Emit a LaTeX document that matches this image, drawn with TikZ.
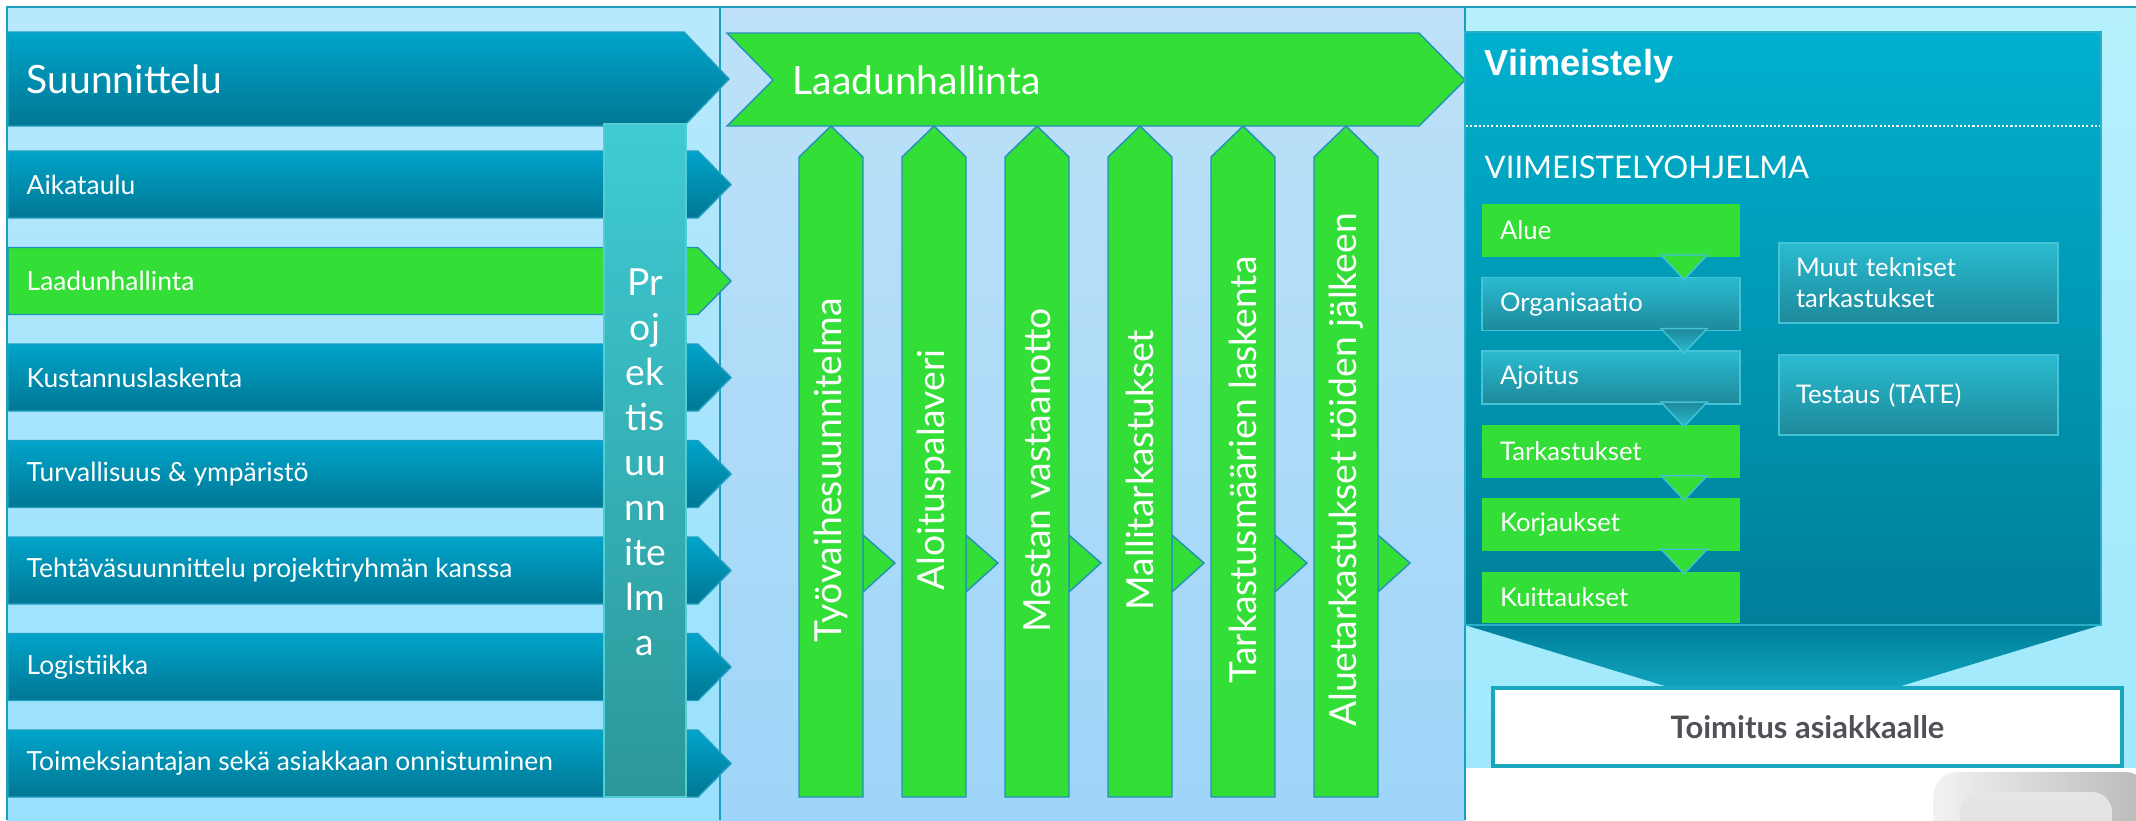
\documentclass[tikz,border=0pt]{standalone}
\usepackage{fontspec}
\setmainfont{Lato}
\newfontfamily\arialfont{Liberation Sans}
\usepackage{tikz}
\usetikzlibrary{positioning}

\definecolor{lpanel}{HTML}{B7E9FD}
\definecolor{lpanelb}{HTML}{98E1FD}
\definecolor{mpanel}{HTML}{BEE1F8}
\definecolor{mpanelb}{HTML}{9ED5F8}
\definecolor{rpanel}{HTML}{B6F0FD}
\definecolor{rpanelb}{HTML}{A0E9FD}
\definecolor{frameln}{HTML}{1E9EBD}
\definecolor{arrtop}{HTML}{00A4CA}
\definecolor{arrbot}{HTML}{007793}
\definecolor{arrln}{HTML}{1FA0C0}
\definecolor{qgreen}{HTML}{33DE36}
\definecolor{qline}{HTML}{2390BE}
\definecolor{projtop}{HTML}{3FCBD3}
\definecolor{projbot}{HTML}{2B979A}
\definecolor{projln}{HTML}{52CDD3}
\definecolor{viimtop}{HTML}{00B0CE}
\definecolor{viimbot}{HTML}{007F99}
\definecolor{viimln}{HTML}{2AAFCB}
\definecolor{tealtop}{HTML}{2ABBD0}
\definecolor{tealbot}{HTML}{1D899B}
\definecolor{tealln}{HTML}{45C2D6}
\definecolor{toimln}{HTML}{1BA6BF}
\definecolor{toimtxt}{HTML}{4F5058}

\begin{document}
\begin{tikzpicture}[
  x=0.01cm, y=-0.01cm,
  bluearrow/.style={top color=arrtop, bottom color=arrbot, draw=arrln, line width=0.4pt},
  greenarrow/.style={fill=qgreen, draw=qline, line width=0.4pt},
  bigtitle/.style={anchor=west, inner sep=0pt, text=white, font=\fontsize{11.1}{13}\selectfont},
  item/.style={anchor=west, inner sep=0pt, text=white, font=\fontsize{7.5}{9}\selectfont},
  vlabel/.style={rotate=90, inner sep=0pt, text=white, font=\fontsize{10.6}{12}\selectfont},
  fbox/.style={rectangle, anchor=north west, minimum height=0.53cm, text width=2.22cm,
               inner xsep=0.18cm, inner ysep=0pt, outer sep=0pt, align=left, text=white,
               font=\fontsize{7.3}{8.8}\selectfont},
  greenbox/.style={fbox, fill=qgreen},
  tealbox/.style={fbox, top color=tealtop, bottom color=tealbot, draw=tealln, line width=0.4pt},
  rbox/.style={tealbox, text width=2.45cm, inner xsep=0.17cm, minimum height=0.80cm},
  greentri/.style={fill=qgreen, draw=tealln, line width=0.4pt},
  tealtri/.style={top color=tealbot, bottom color=tealtop, draw=tealln, line width=0.4pt}
]
\useasboundingbox (0,0) rectangle (2136,820);

% --- Panels ---
\shade[top color=lpanel, bottom color=lpanelb] (7,7) rectangle (720,820);
\shade[top color=mpanel, bottom color=mpanelb] (720,7) rectangle (1465,820);
\shade[top color=rpanel, bottom color=rpanelb] (1465,7) rectangle (2136,768);
\fill[white] (1465,768) rectangle (2136,820);
\draw[frameln, line width=0.6pt] (6,7) -- (2136,7) (7,7) -- (7,820)
  (720,7) -- (720,820) (1465,7) -- (1465,820);

% --- Suunnittelu ---
\path[bluearrow] (8,32) -- (684,32) -- (729,79) -- (684,126) -- (8,126) -- cycle;
\node[bigtitle] (suun) at (26,79) {Suunnittelu};

\foreach \i/\col/\txt in {0/bluearrow/Aikataulu, 1/greenarrow/Laadunhallinta,
    2/bluearrow/Kustannuslaskenta, 3/bluearrow/Turvallisuus \& ympäristö,
    4/bluearrow/Tehtäväsuunnittelu projektiryhmän kanssa, 5/bluearrow/Logistiikka,
    6/bluearrow/Toimeksiantajan sekä asiakkaan onnistuminen} {
  \pgfmathsetmacro\t{151+96.5*\i}
  \path[\col] (8,\t) -- (698,\t) -- (731,\t+33.5) -- (698,\t+67) -- (8,\t+67) -- cycle;
  \node[item] (lbl\i) at (26,\t+33.5) {\txt};
}

% --- Projektisuunnitelma ---
\path[top color=projtop, bottom color=projbot, draw=projln, line width=0.4pt]
  (604,124) rectangle (686,797);
\node[align=center, inner sep=0pt, text=white, font=\fontsize{10.6}{12.8}\selectfont]
  (proj) at (645,462) {Pr\\oj\\ek\\tis\\uu\\nn\\ite\\lm\\a};

% --- Laadunhallinta ---
\path[greenarrow] (727,33) -- (1419,33) -- (1465,80) -- (1419,126) -- (727,126)
  -- (773,80) -- cycle;
\node[bigtitle] (laadh) at (792,80) {Laadunhallinta};

\foreach \i/\txt in {0/Työvaihesuunnitelma, 1/Aloituspalaveri, 2/Mestan vastaanotto,
    3/Mallitarkastukset, 4/Tarkastusmäärien laskenta, 5/Aluetarkastukset töiden jälkeen} {
  \pgfmathsetmacro\l{799+103*\i}
  \path[greenarrow] (\l+64,535) -- (\l+96,563) -- (\l+64,592) -- cycle;
  \path[greenarrow] (\l,797) -- (\l,157) -- (\l+32,126) -- (\l+64,157) -- (\l+64,797) -- cycle;
  \node[vlabel] (v\i) at (\l+32,470) {\txt};
}

% --- Viimeistely ---
\path[top color=viimbot, bottom color=viimtop!90!white] (1465,625) -- (2101,625) -- (1783,722) -- cycle;
\path[top color=viimtop, bottom color=viimbot, draw=viimln, line width=0.4pt]
  (1465,32) rectangle (2101,625);
\node[anchor=base west, inner sep=0pt, text=white, font=\arialfont\bfseries\fontsize{10.3}{12}\selectfont]
  (viim) at (1484,75) {Viimeistely};
\draw[white, line width=0.5pt, dash pattern=on 0.6pt off 0.6pt] (1466,126) -- (2100,126);
\node[anchor=base west, inner sep=0pt, text=white, font=\fontsize{8.85}{11}\selectfont]
  (ohj) at (1484,178) {VIIMEISTELYOHJELMA};

\node[greenbox] (alue) at (1482,204) {Alue};
\node[tealbox, below=0.205cm of alue] (org) {Organisaatio};
\node[tealbox, below=0.205cm of org] (ajo) {Ajoitus};
\node[greenbox, below=0.205cm of ajo] (tark) {Tarkastukset};
\node[greenbox, below=0.205cm of tark] (korj) {Korjaukset};
\node[greenbox, minimum height=0.51cm, below=0.205cm of korj] (kuit) {Kuittaukset};

\foreach \a/\b/\s in {alue/org/greentri, org/ajo/tealtri, ajo/tark/tealtri,
    tark/korj/greentri, korj/kuit/greentri}
  \path[\s] ([xshift=-0.79cm,yshift=0.02cm]\a.south east)
    -- ([xshift=-0.33cm,yshift=0.02cm]\a.south east)
    -- ([xshift=-0.56cm,yshift=-0.02cm]\b.north east) -- cycle;

\node[rbox] (muut) at (1779,243) {Muut tekniset\\tarkastukset};
\node[rbox, below=0.32cm of muut] (test) {Testaus (TATE)};

% --- Toimitus ---
\node[rectangle, fill=white, draw=toimln, line width=1.1pt, minimum width=6.29cm,
      minimum height=0.78cm, text=toimtxt, font=\bfseries\fontsize{8.8}{10}\selectfont]
  (toimitus) at (1807.5,727) {Toimitus asiakkaalle};

\begin{scope}
  \clip (1466,771) rectangle (2136,820);
  \path[left color=white!95!black, middle color=white!93!black, right color=white!72!black,
        rounded corners=0.25cm] (1933,772) rectangle (2150,900);
  \path[top color=white!90!black, bottom color=white!85!black, rounded corners=0.2cm]
    (1960,792) rectangle (2112,900);
\end{scope}

\end{tikzpicture}
\end{document}
